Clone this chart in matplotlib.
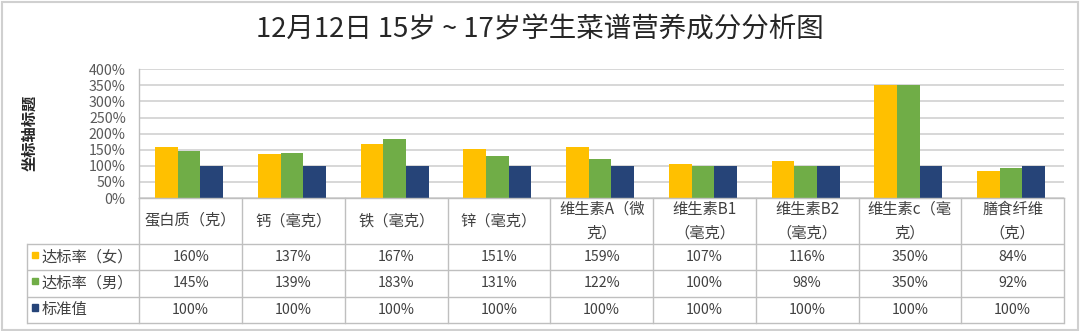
import matplotlib
matplotlib.use("Agg")
import matplotlib.pyplot as plt
from matplotlib.patches import Rectangle
import numpy as np

# ---- data ----
categories = ["蛋白质（克）", "钙（毫克）", "铁（毫克）", "锌（毫克）",
              "维生素A（微\n克）", "维生素B1\n（毫克）", "维生素B2\n（毫克）",
              "维生素c（毫\n克）", "膳食纤维\n（克）"]
female = [160, 137, 167, 151, 159, 107, 116, 350, 84]
male = [145, 139, 183, 131, 122, 100, 98, 350, 92]
standard = [100, 100, 100, 100, 100, 100, 100, 100, 100]
series_names = ["达标率（女）", "达标率（男）", "标准值"]
y_ticks = [0, 50, 100, 150, 200, 250, 300, 350, 400]
title = "12月12日 15岁 ~ 17岁学生菜谱营养成分分析图"
y_title = "坐标轴标题"

# ---- style ----
colors = ["#FFC000", "#70AD47", "#264478"]
CJK = ["Noto Sans CJK SC", "DejaVu Sans"]
NUM = ["Liberation Sans Narrow", "Noto Sans CJK SC", "DejaVu Sans"]
grid_c = "#D4D4D4"
line_c = "#BFBFBF"
text_c = "#404040"

W, H = 1080, 331
fig = plt.figure(figsize=(W / 100, H / 100), dpi=100)


def fbox(l, t, r, b):
    return [l / W, 1 - b / H, (r - l) / W, (b - t) / H]


# outer frame
fig.add_artist(Rectangle((1.5 / W, 1.5 / H), (W - 4) / W, (H - 3.5) / H,
                         transform=fig.transFigure, fill=False,
                         edgecolor="#D0D0D0", lw=1.5))

fig.text(540 / W, 1 - 30 / H, title, ha="center", va="center",
         fontsize=19.8, color="#262626", family=CJK)

# ---- bar chart ----
PL, PT, PR, PB = 139.3, 69.3, 1064, 198
colw = (PR - PL) / len(categories)
ax = fig.add_axes(fbox(PL, PT, PR, PB))
n = len(categories)
x = np.arange(n)
w = 22.7 / colw
for k, vals in enumerate([female, male, standard]):
    ax.bar(x + (k - 1) * w - 0.015, vals, width=w, color=colors[k], zorder=3)
ax.set_xlim(-0.5, n - 0.5)
ax.set_ylim(0, 400)
ax.set_yticks(y_ticks)
ax.set_yticklabels([f"{v}%" for v in y_ticks], family=NUM, fontsize=10.2,
                   color="#595959")
ax.tick_params(axis="y", length=0, pad=9.8)
ax.set_xticks([])
ax.yaxis.grid(True, color=grid_c, lw=1.3, zorder=0)
for s in ["top", "right", "bottom"]:
    ax.spines[s].set_visible(False)
ax.spines["left"].set_color(line_c)
ax.spines["left"].set_linewidth(1.0)

fig.text(29 / W, 1 - 133 / H, y_title, rotation=90, ha="center", va="center",
         fontsize=11, fontweight="bold", color="#262626", family=CJK)

# ---- data table ----
TL, TT, TB = 26.7, 198, 323
legw = (PL - TL) / colw
tax = fig.add_axes(fbox(TL, TT, PR, TB))
tax.set_xlim(-0.5 - legw, n - 0.5)
tax.set_ylim(TB - TT, 0)
tax.axis("off")
row_edges = [0, 46, 72, 98.7, 125]
x_left = -0.5 - legw

for ye in row_edges[1:]:
    tax.plot([x_left, n - 0.5], [ye, ye], color=line_c, lw=1.0,
             solid_capstyle="butt", clip_on=False)
tax.plot([-0.5, n - 0.5], [0, 0], color=line_c, lw=1.0, clip_on=False)
for i in range(n + 1):
    tax.plot([i - 0.5, i - 0.5], [0, row_edges[-1]], color=line_c, lw=1.0,
             clip_on=False)
tax.plot([x_left, x_left], [row_edges[1], row_edges[-1]], color=line_c,
         lw=1.0, clip_on=False)

hy = (row_edges[0] + row_edges[1]) / 2
for i, c in enumerate(categories):
    tax.text(i, hy, c, ha="center", va="center", fontsize=11,
             color=text_c, family=CJK, linespacing=1.5)

sq = 6.5
for r, (name, vals) in enumerate(zip(series_names, [female, male, standard])):
    y0, y1 = row_edges[r + 1], row_edges[r + 2]
    yc = (y0 + y1) / 2
    tax.add_patch(Rectangle((x_left + 5 / colw, yc - 5.5), sq / colw, sq,
                            color=colors[r], clip_on=False))
    tax.text(x_left + 14.5 / colw, yc, name, ha="left", va="center",
             fontsize=11, color=text_c, family=CJK)
    for i, v in enumerate(vals):
        tax.text(i, yc, f"{v}%", ha="center", va="center", fontsize=10.2,
                 color=text_c, family=NUM)

fig.savefig("out.png", dpi=100)
